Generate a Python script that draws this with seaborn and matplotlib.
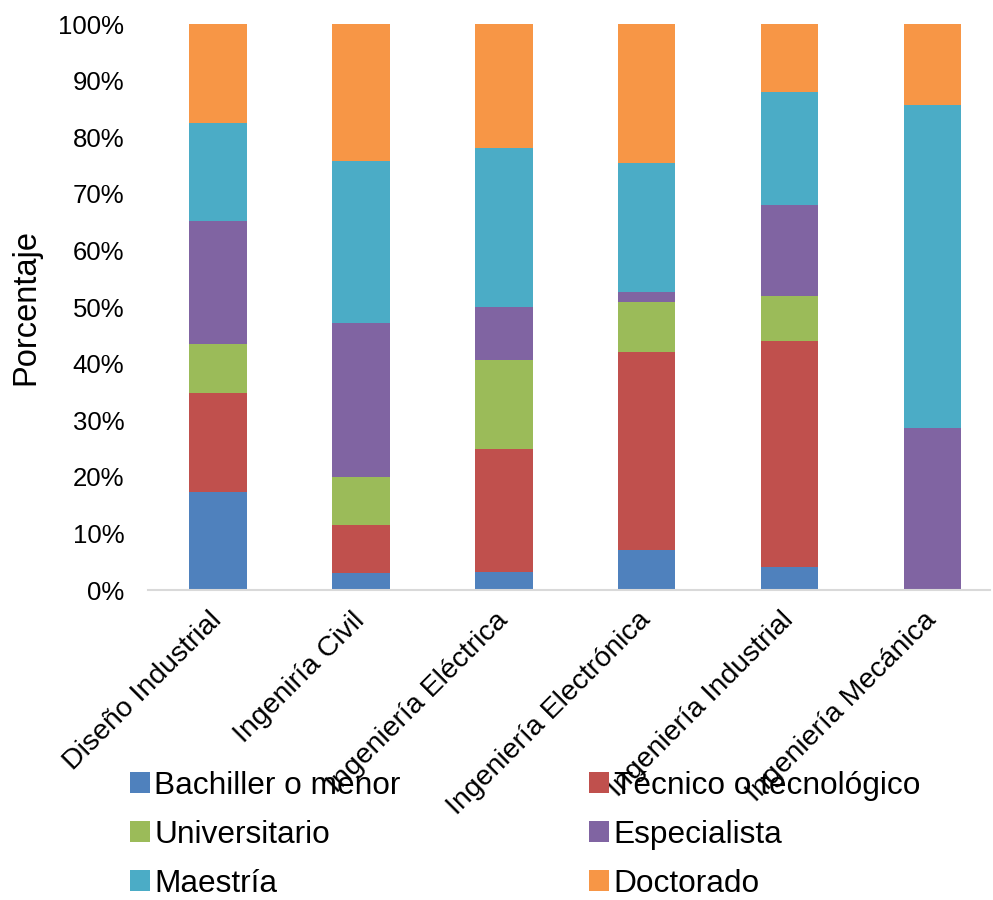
import matplotlib
matplotlib.use("Agg")
import matplotlib.pyplot as plt
from matplotlib.patches import Patch
import seaborn as sns
import pandas as pd
import numpy as np

categories = ["Diseño Industrial", "Ingeniría Civil", "Ingeniería Eléctrica",
              "Ingeniería Electrónica", "Ingeniería Industrial", "Ingeniería Mecánica"]
levels = ["Bachiller o menor", "Técnico o tecnológico", "Universitario",
          "Especialista", "Maestría", "Doctorado"]
bachiller = [17.4, 3.0, 3.1, 7.0, 4.0, 0.0]
tecnico = [17.4, 8.5, 21.9, 35.1, 40.0, 0.0]
universitario = [8.7, 8.5, 15.6, 8.8, 8.0, 0.0]
especialista = [21.7, 27.2, 9.4, 1.8, 16.0, 28.6]
maestria = [17.4, 28.6, 28.1, 22.8, 20.0, 57.1]
doctorado = [17.4, 24.2, 21.9, 24.6, 12.0, 14.3]
colors = ["#4F81BD", "#C0504D", "#9BBB59", "#8064A2", "#4BACC6", "#F79646"]

series = [bachiller, tecnico, universitario, especialista, maestria, doctorado]
df = pd.DataFrame({lvl: vals for lvl, vals in zip(levels, series)}, index=categories)
df = df.div(df.sum(axis=1), axis=0) * 100
cum = df.cumsum(axis=1)

sns.set_theme(style="white")
plt.rcParams['font.family'] = ['Liberation Sans', 'DejaVu Sans']
plt.rcParams['text.color'] = 'black'
plt.rcParams['axes.labelcolor'] = 'black'
plt.rcParams['xtick.color'] = 'black'
plt.rcParams['ytick.color'] = 'black'

fig = plt.figure(figsize=(9.93, 9.0), dpi=100)
ax = fig.add_axes([0.149, 0.3444, 0.848, 0.6289])

for lvl, col in reversed(list(zip(levels, colors))):
    sns.barplot(x=categories, y=cum[lvl].values, color=col, width=0.4,
                linewidth=0, saturation=1, ax=ax, order=categories)

ax.set_ylim(0, 100)
ax.set_xlim(-0.49, 5.40)
ax.set_yticks(np.arange(0, 101, 10))
ax.set_yticklabels([f"{v}%" for v in range(0, 101, 10)], fontsize=18.5)
ax.set_ylabel("Porcentaje", fontsize=23.5, labelpad=12)
ax.set_xlabel("")
ax.tick_params(axis='y', length=0, pad=17)
ax.tick_params(axis='x', length=0, pad=19)
for lab in ax.get_xticklabels():
    lab.set_rotation(45)
    lab.set_ha('right')
    lab.set_va('center')
    lab.set_rotation_mode('anchor')
    lab.set_fontsize(20.5)

for s in ['top', 'right', 'left']:
    ax.spines[s].set_visible(False)
ax.spines['bottom'].set_color('#D9D9D9')
ax.spines['bottom'].set_linewidth(1.5)
ax.grid(False)

handles = {l: Patch(facecolor=c, edgecolor='none', label=l) for l, c in zip(levels, colors)}
order = [0, 2, 4, 1, 3, 5]
hs = [handles[levels[i]] for i in order]
leg = fig.legend(handles=hs, ncol=2, loc='upper left',
                 bbox_to_anchor=(0.131, 0.1435), frameon=False, fontsize=22.8,
                 handlelength=0.62, handleheight=0.62, handletextpad=0.15,
                 columnspacing=5.95, labelspacing=0.6, borderpad=0, borderaxespad=0)

fig.savefig("out.png", dpi=100)
